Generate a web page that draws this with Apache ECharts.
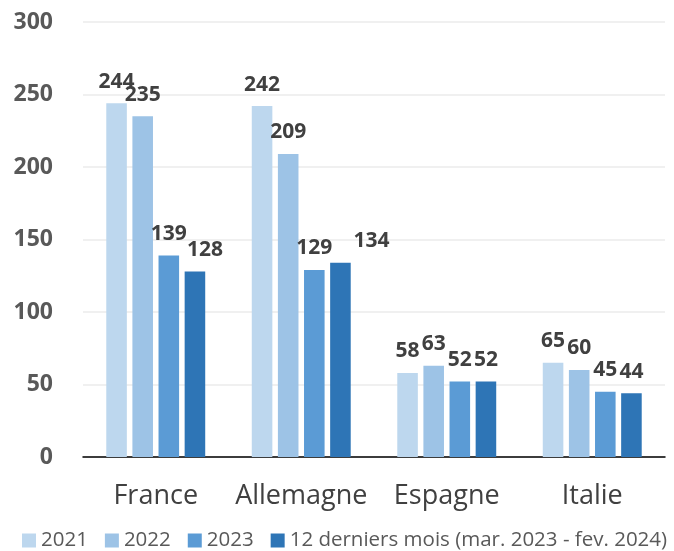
<!DOCTYPE html>
<html><head><meta charset="utf-8">
<script src="https://cdn.jsdelivr.net/npm/echarts@6/dist/echarts.min.js"></script>
<style>html,body{margin:0;padding:0;background:#fff}#c{width:674px;height:551px}</style>
</head><body><div id="c"></div>
<script>
const categories = ['France', 'Allemagne', 'Espagne', 'Italie'];
const seriesNames = ['2021', '2022', '2023', '12 derniers mois (mar. 2023 - fev. 2024)'];
const values2021 = [244, 242, 58, 65];
const values2022 = [235, 209, 63, 60];
const values2023 = [139, 129, 52, 45];
const valuesLast12 = [128, 134, 52, 44];
const colors = ['#BDD7EE', '#9DC3E6', '#5B9BD5', '#2E75B6'];
const yTicks = [0, 50, 100, 150, 200, 250, 300];

// label nudges (pixels) to avoid overlapping labels, as in the original
const labelOffsets = { '3-0': [10, 0], '3-1': [31, 0] };

const font = 'Open Sans, Noto Sans, sans-serif';
const allValues = [values2021, values2022, values2023, valuesLast12];
const chart = echarts.init(document.getElementById('c'));
chart.setOption({
  animation: false,
  color: colors,
  textStyle: { fontFamily: font },
  grid: { left: 83, right: 9, top: 22, bottom: 94, containLabel: false },
  legend: {
    top: 530, left: 22, width: 652, padding: 0, itemWidth: 14, itemHeight: 14, itemGap: 17,
    icon: 'rect',
    textStyle: { fontSize: 20.5, color: '#595959', fontFamily: font },
    data: seriesNames
  },
  xAxis: {
    type: 'category', data: categories,
    axisLine: { lineStyle: { color: '#000', width: 1.5 } },
    axisTick: { show: false },
    axisLabel: { interval: 0, fontSize: 27, color: '#404040', margin: 26, fontFamily: font }
  },
  yAxis: {
    type: 'value', min: yTicks[0], max: yTicks[yTicks.length - 1], interval: 50,
    axisLine: { show: false }, axisTick: { show: false },
    splitLine: { lineStyle: { color: '#EBEBEB', width: 1.5 } },
    axisLabel: { fontSize: 23, fontWeight: 'bold', color: '#595959', margin: 30, fontFamily: font }
  },
  series: seriesNames.map((n, i) => ({
    name: n, type: 'bar',
    data: allValues[i].map((v, j) => {
      const off = labelOffsets[i + '-' + j];
      return off ? { value: v, label: { offset: off } } : v;
    }),
    barGap: '27%', barCategoryGap: '32%',
    label: { show: true, position: 'top', distance: 11, fontSize: 21, fontWeight: 'bold', color: '#404040', fontFamily: font }
  }))
});
</script></body></html>
